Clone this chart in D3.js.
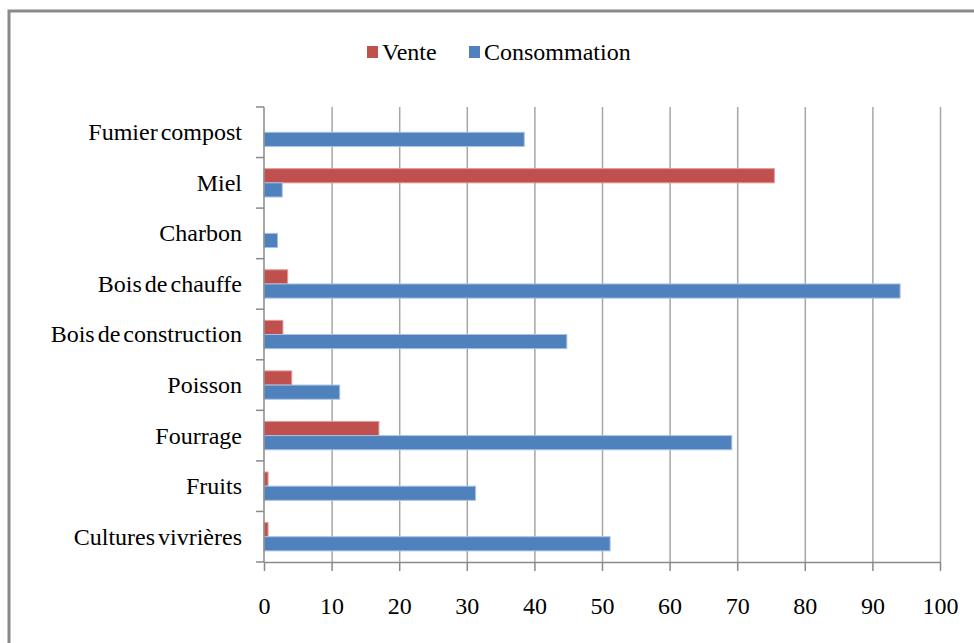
<!DOCTYPE html>
<html>
<head>
<meta charset="utf-8">
<script src="https://cdn.jsdelivr.net/npm/d3@7"></script>
<style>
  html, body { margin: 0; padding: 0; background: #fff; overflow: hidden; }
  svg text { font-family: "Times New Roman", "Liberation Serif", Tinos, "DejaVu Serif", serif; fill: #000; }
</style>
</head>
<body>
<div id="chart"></div>
<script>
// categories listed top to bottom, as in the picture
const categories = [
  'Fumier compost', 'Miel', 'Charbon', 'Bois de chauffe', 'Bois de construction',
  'Poisson', 'Fourrage', 'Fruits', 'Cultures vivrières'
];
const series = ['Vente', 'Consommation'];
const vente = [0, 75.5, 0, 3.5, 2.8, 4.1, 17.0, 0.6, 0.6];
const consommation = [38.5, 2.7, 2.0, 94.1, 44.8, 11.2, 69.2, 31.3, 51.2];
const xTicks = [0, 10, 20, 30, 40, 50, 60, 70, 80, 90, 100];

const colors = { Vente: '#c0504d', Consommation: '#4f81bd' };
const strokes = { Vente: '#e09a98', Consommation: '#a9c2e3' };

const W = 974, H = 643;
const plot = { left: 264, right: 940, top: 107, bottom: 562 };

const svg = d3.select('#chart').append('svg')
  .attr('width', W).attr('height', H);

// outer chart frame
svg.append('rect')
  .attr('x', 9).attr('y', 11)
  .attr('width', W + 20).attr('height', H + 20)
  .attr('fill', 'none').attr('stroke', '#8a8a8a').attr('stroke-width', 3);

const x = d3.scaleLinear().domain([0, 100]).range([plot.left, plot.right]);
const y = d3.scaleBand().domain(categories).range([plot.top, plot.bottom]);
const bw = y.bandwidth();
const ySub = d3.scaleBand().domain(series).range([bw * 0.22, bw * 0.78]);

// vertical gridlines
svg.append('g').selectAll('line')
  .data(xTicks.filter(d => d > 0))
  .join('line')
  .attr('x1', d => x(d) + 0.5).attr('x2', d => x(d) + 0.5)
  .attr('y1', plot.top).attr('y2', plot.bottom)
  .attr('stroke', '#a6a6a6').attr('stroke-width', 1.5);

// bars
const rows = categories.map((c, i) => ({ cat: c, Vente: vente[i], Consommation: consommation[i] }));
const groups = svg.append('g').selectAll('g')
  .data(rows)
  .join('g')
  .attr('transform', d => `translate(0,${y(d.cat)})`);

groups.selectAll('rect')
  .data(d => series.map(s => ({ s, v: d[s] })).filter(d => d.v > 0))
  .join('rect')
  .attr('x', x(0))
  .attr('y', d => ySub(d.s))
  .attr('width', d => x(d.v) - x(0))
  .attr('height', ySub.bandwidth())
  .attr('fill', d => colors[d.s])
  .attr('stroke', d => strokes[d.s])
  .attr('stroke-width', 1);

// bottom axis
const xAxis = svg.append('g')
  .attr('transform', `translate(0,${plot.bottom})`)
  .call(d3.axisBottom(x).tickValues(xTicks).tickSize(9).tickPadding(26).tickSizeOuter(0));
xAxis.attr('font-family', null).attr('font-size', null);
xAxis.select('.domain').attr('stroke', '#8a8a8a').attr('stroke-width', 1.5);
xAxis.selectAll('.tick line').attr('stroke', '#8a8a8a').attr('stroke-width', 1.5);
xAxis.selectAll('.tick text')
  .attr('font-size', 24)
  .attr('fill', '#000');

// left axis: ticks sit on band boundaries
const yEdges = categories.map(c => y(c)).concat([plot.bottom]);
const yAxisG = svg.append('g');
yAxisG.append('line')
  .attr('x1', plot.left).attr('x2', plot.left)
  .attr('y1', plot.top).attr('y2', plot.bottom)
  .attr('stroke', '#8a8a8a').attr('stroke-width', 1.5);
yAxisG.selectAll('line.tk')
  .data(yEdges)
  .join('line')
  .attr('class', 'tk')
  .attr('x1', plot.left - 8).attr('x2', plot.left)
  .attr('y1', d => d).attr('y2', d => d)
  .attr('stroke', '#8a8a8a').attr('stroke-width', 1.5);
yAxisG.selectAll('text')
  .data(categories)
  .join('text')
  .attr('x', 242)
  .attr('y', d => y(d) + bw / 2)
  .attr('dy', '0.33em')
  .attr('text-anchor', 'end')
  .attr('font-size', 24)
  .attr('word-spacing', -3)
  .text(d => d);

// legend
const legend = svg.append('g').attr('transform', 'translate(367,46)');
const legendX = { Vente: 0, Consommation: 102 };
const li = legend.selectAll('g')
  .data(series)
  .join('g')
  .attr('transform', d => `translate(${legendX[d]},0)`);
li.append('rect')
  .attr('width', 11).attr('height', 12)
  .attr('fill', d => colors[d]);
li.append('text')
  .attr('x', 15).attr('y', 14)
  .attr('font-size', 24)
  .text(d => d);
</script>
</body>
</html>
